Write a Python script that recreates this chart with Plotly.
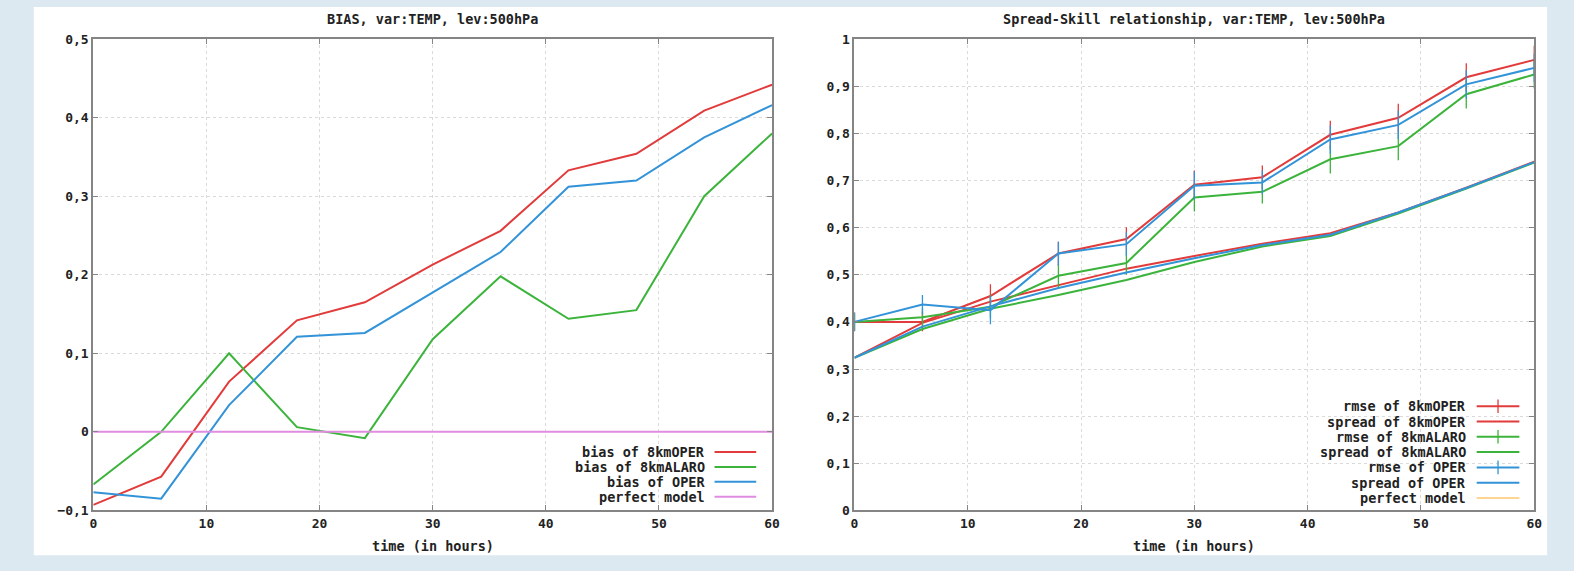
import plotly.graph_objects as go

# ---------------- data ----------------
hours = [0, 6, 12, 18, 24, 30, 36, 42, 48, 54, 60]

bias_8kmOPER = [-0.093, -0.057, 0.064, 0.142, 0.165, 0.213, 0.256, 0.333, 0.354, 0.409, 0.442]
bias_8kmALARO = [-0.067, 0.000, 0.100, 0.006, -0.008, 0.118, 0.198, 0.144, 0.155, 0.300, 0.380]
bias_OPER = [-0.077, -0.085, 0.034, 0.121, 0.126, 0.177, 0.229, 0.312, 0.320, 0.375, 0.416]
bias_perfect = [0, 0, 0, 0, 0, 0, 0, 0, 0, 0, 0]

rmse_8kmOPER = [0.400, 0.400, 0.455, 0.545, 0.576, 0.691, 0.707, 0.797, 0.833, 0.919, 0.956]
spread_8kmOPER = [0.324, 0.398, 0.443, 0.478, 0.513, 0.540, 0.566, 0.588, 0.632, 0.685, 0.740]
rmse_8kmALARO = [0.400, 0.410, 0.432, 0.498, 0.525, 0.664, 0.676, 0.745, 0.773, 0.883, 0.925]
spread_8kmALARO = [0.324, 0.385, 0.428, 0.457, 0.489, 0.527, 0.560, 0.582, 0.630, 0.683, 0.738]
rmse_OPER = [0.400, 0.437, 0.425, 0.545, 0.565, 0.689, 0.696, 0.787, 0.818, 0.904, 0.939]
spread_OPER = [0.324, 0.390, 0.433, 0.472, 0.505, 0.535, 0.563, 0.585, 0.632, 0.684, 0.739]

rmse_err_8kmOPER = [0.02, 0.02, 0.025, 0.025, 0.025, 0.03, 0.025, 0.03, 0.03, 0.03, 0.03]
rmse_err_8kmALARO = [0.02, 0.02, 0.025, 0.025, 0.025, 0.03, 0.025, 0.03, 0.03, 0.03, 0.03]
rmse_err_OPER = [0.02, 0.02, 0.03, 0.025, 0.025, 0.03, 0.025, 0.03, 0.03, 0.03, 0.03]

left_title = "BIAS, var:TEMP, lev:500hPa"
right_title = "Spread-Skill relationship, var:TEMP, lev:500hPa"
x_title = "time (in hours)"

bias_names = ["bias of 8kmOPER", "bias of 8kmALARO", "bias of OPER", "perfect model"]
ss_names = ["rmse of 8kmOPER", "spread of 8kmOPER", "rmse of 8kmALARO",
            "spread of 8kmALARO", "rmse of OPER", "spread of OPER", "perfect model"]

# ---------------- style ----------------
RED = "#e23b3b"
GREEN = "#3cb43c"
BLUE = "#3393d8"
PINK = "#e08ce0"
ORANGE = "#ffd591"
BG = "#dde9f0"
FONT = "DejaVu Sans Mono"
TXT = "#222222"

W, H = 1574, 571


def fx(px):
    return px / W


def fy(py):
    return 1 - py / H


L_X0, L_X1 = 90, 774
R_X0, R_X1 = 857, 1542
P_TOP, P_BOT = 33, 517

fig = go.Figure()

# left panel traces
for y, c in zip([bias_8kmOPER, bias_8kmALARO, bias_OPER, bias_perfect], [RED, GREEN, BLUE, PINK]):
    fig.add_trace(go.Scatter(x=hours, y=y, mode="lines", line=dict(color=c, width=2),
                             xaxis="x", yaxis="y", showlegend=False, hoverinfo="skip"))

# right panel traces
right_series = [
    (rmse_8kmOPER, RED, rmse_err_8kmOPER),
    (spread_8kmOPER, RED, None),
    (rmse_8kmALARO, GREEN, rmse_err_8kmALARO),
    (spread_8kmALARO, GREEN, None),
    (rmse_OPER, BLUE, rmse_err_OPER),
    (spread_OPER, BLUE, None),
]
for y, c, err in right_series:
    kw = {}
    if err is not None:
        kw["error_y"] = dict(type="data", array=err, visible=True, color=c, thickness=1.3, width=0)
    fig.add_trace(go.Scatter(x=hours, y=y, mode="lines", line=dict(color=c, width=2),
                             xaxis="x2", yaxis="y2", showlegend=False, hoverinfo="skip", **kw))

tickfont = dict(family=FONT, size=13, color=TXT, weight="bold")
axis_common = dict(
    showgrid=True, gridcolor="#dadada", griddash="dot", gridwidth=1,
    showline=True, linecolor="#858585", linewidth=2, mirror="ticks",
    ticks="inside", ticklen=5, tickcolor="#858585", tickwidth=1,
    zeroline=False, tickfont=tickfont, fixedrange=True,
)

fig.update_layout(
    width=W, height=H,
    margin=dict(l=0, r=0, t=0, b=0),
    paper_bgcolor=BG, plot_bgcolor="white",
    separators=", ",
    showlegend=False,
    xaxis=dict(domain=[fx(L_X0), fx(L_X1)], range=[0, 60], dtick=10, anchor="y", **axis_common),
    yaxis=dict(domain=[fy(P_BOT), fy(P_TOP)], range=[-0.1, 0.5], dtick=0.1, anchor="x", **axis_common),
    xaxis2=dict(domain=[fx(R_X0), fx(R_X1)], range=[0, 60], dtick=10, anchor="y2", **axis_common),
    yaxis2=dict(domain=[fy(P_BOT), fy(P_TOP)], range=[0, 1], dtick=0.1, anchor="x2", **axis_common),
)

shapes = [dict(type="rect", xref="paper", yref="paper", x0=fx(30), x1=fx(1555), y0=fy(563), y1=1,
               fillcolor="white", line=dict(width=0), layer="below")]
annotations = []

txtfont = dict(family=FONT, size=13.5, color=TXT, weight="bold")

# titles and x titles
for cx, t in [((L_X0 + L_X1) / 2, left_title), ((R_X0 + R_X1) / 2, right_title)]:
    annotations.append(dict(x=fx(cx), y=fy(12), xref="paper", yref="paper", text=t,
                            showarrow=False, font=txtfont, xanchor="center", yanchor="middle"))
    annotations.append(dict(x=fx(cx), y=fy(554), xref="paper", yref="paper", text=x_title,
                            showarrow=False, font=txtfont, xanchor="center", yanchor="middle"))

# manual gnuplot-style legends (text right-aligned, sample on the right)
def add_legend(names, colors, has_bar, text_right, line_x0, line_x1, row0, step):
    for i, (n, c, b) in enumerate(zip(names, colors, has_bar)):
        py = row0 + i * step
        annotations.append(dict(x=fx(text_right), y=fy(py), xref="paper", yref="paper", text=n,
                                showarrow=False, font=txtfont, xanchor="right", yanchor="middle"))
        shapes.append(dict(type="line", xref="paper", yref="paper", x0=fx(line_x0), x1=fx(line_x1),
                           y0=fy(py), y1=fy(py), line=dict(color=c, width=2)))
        if b:
            mx = (line_x0 + line_x1) / 2
            shapes.append(dict(type="line", xref="paper", yref="paper", x0=fx(mx), x1=fx(mx),
                               y0=fy(py - 7), y1=fy(py + 7), line=dict(color=c, width=1.3)))


add_legend(bias_names, [RED, GREEN, BLUE, PINK], [False] * 4, 708, 716, 758, 457, 15.3)
add_legend(ss_names, [RED, RED, GREEN, GREEN, BLUE, BLUE, ORANGE],
           [True, False, True, False, True, False, False], 1475, 1484, 1527, 410, 15.7)

fig.update_layout(shapes=shapes, annotations=annotations)
fig.write_html("out.html")
